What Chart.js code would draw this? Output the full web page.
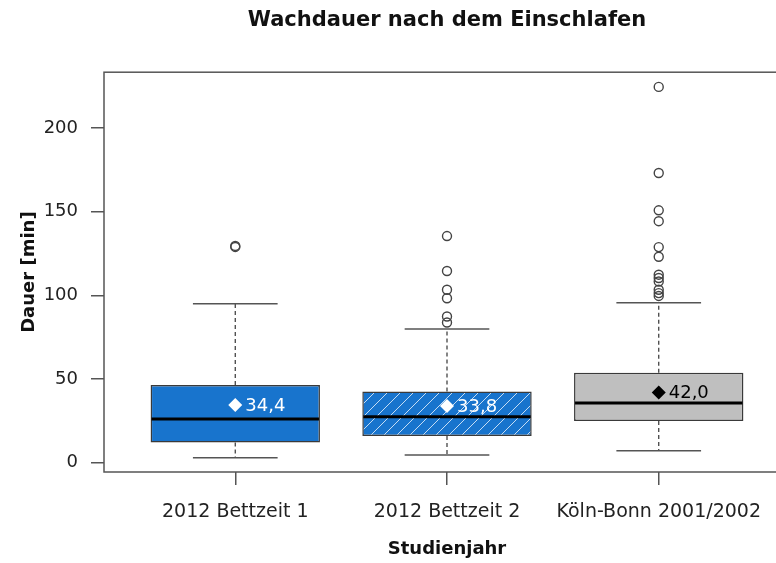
<!DOCTYPE html>
<html>
<head>
<meta charset="utf-8">
<title>Wachdauer nach dem Einschlafen</title>
<script src="https://cdn.jsdelivr.net/npm/chart.js@4.4.1/dist/chart.umd.min.js"></script>
<style>
  html, body { margin: 0; padding: 0; background: #fff; overflow: hidden; }
  #wrap { width: 800px; height: 563px; }
</style>
</head>
<body>
<div id="wrap"><canvas id="chart" width="800" height="563"></canvas></div>
<script>
// data
const categories = ['2012 Bettzeit 1', '2012 Bettzeit 2', 'Köln-Bonn 2001/2002'];
const xPos = [1, 2, 3];
const whiskerLow = [2.9, 4.5, 7.1];
const q1 = [12.1, 15.9, 24.9];
const medians = [26.1, 27.4, 35.6];
const q3 = [46.4, 42.6, 53.7];
const whiskerHigh = [95.0, 79.9, 95.6];
const means = [34.4, 33.8, 42.0];
const outliers1 = [129.0, 129.6];
const outliers2 = [135.5, 114.6, 103.4, 98.3, 87.4, 83.8];
const outliers3 = [224.7, 173.2, 150.9, 144.4, 128.9, 123.1, 112.4, 110.4, 108.3, 103.4, 101.4, 99.7];
const yTicks = [0, 50, 100, 150, 200];

const outliers = [outliers1, outliers2, outliers3];
const FONT = 'DejaVu Sans';
Chart.defaults.font.family = FONT;

// blue fill with white diagonal hatching for the second box
function hatch(color) {
    const c = document.createElement('canvas');
    c.width = 13; c.height = 13;
    const g = c.getContext('2d');
    g.fillStyle = color;
    g.fillRect(0, 0, 13, 13);
    g.strokeStyle = 'rgba(255,255,255,0.75)';
    g.lineWidth = 1;
    g.beginPath();
    g.moveTo(-1, 14); g.lineTo(14, -1);
    g.moveTo(-1, 1); g.lineTo(1, -1);
    g.moveTo(12, 14); g.lineTo(14, 12);
    g.stroke();
    return g.createPattern(c, 'repeat');
}

const blue = '#1874CD';
const boxFills = [blue, hatch(blue), '#BFBFBF'];
const meanColors = ['#ffffff', '#ffffff', '#000000'];

const boxParts = {
    id: 'boxParts',
    beforeDatasetsDraw(chart) {
        const ctx = chart.ctx;
        const xs = chart.scales.x, ys = chart.scales.y;
        const bars = chart.getDatasetMeta(0).data;
        ctx.save();
        xPos.forEach((xv, i) => {
            const x = xs.getPixelForValue(xv);
            // dashed whiskers
            ctx.strokeStyle = '#444';
            ctx.lineWidth = 1.3;
            ctx.setLineDash([4, 3]);
            ctx.beginPath();
            ctx.moveTo(x, ys.getPixelForValue(q3[i]));
            ctx.lineTo(x, ys.getPixelForValue(whiskerHigh[i]));
            ctx.moveTo(x, ys.getPixelForValue(q1[i]));
            ctx.lineTo(x, ys.getPixelForValue(whiskerLow[i]));
            ctx.stroke();
            // caps, half the box width
            const half = bars[i].width / 4;
            ctx.setLineDash([]);
            ctx.strokeStyle = '#555';
            ctx.lineWidth = 1.5;
            ctx.beginPath();
            [whiskerHigh[i], whiskerLow[i]].forEach(v => {
                const y = ys.getPixelForValue(v);
                ctx.moveTo(x - half, y);
                ctx.lineTo(x + half, y);
            });
            ctx.stroke();
        });
        ctx.restore();
    },
    afterDatasetsDraw(chart) {
        const ctx = chart.ctx;
        const xs = chart.scales.x, ys = chart.scales.y;
        const bars = chart.getDatasetMeta(0).data;
        const area = chart.chartArea;
        ctx.save();
        xPos.forEach((xv, i) => {
            const x = xs.getPixelForValue(xv);
            const half = bars[i].width / 2;
            const y = ys.getPixelForValue(medians[i]);
            ctx.strokeStyle = '#000';
            ctx.lineWidth = 3;
            ctx.beginPath();
            ctx.moveTo(x - half + 1, y);
            ctx.lineTo(x + half - 1, y);
            ctx.stroke();
            // mean label
            ctx.fillStyle = meanColors[i];
            ctx.font = '18px "' + FONT + '"';
            ctx.textAlign = 'left';
            ctx.textBaseline = 'middle';
            ctx.fillText(means[i].toFixed(1).replace('.', ','), x + 10, ys.getPixelForValue(means[i]) + 1);
        });
        // frame around the plot
        ctx.strokeStyle = '#555';
        ctx.lineWidth = 1.5;
        ctx.strokeRect(area.left, area.top, area.right - area.left, area.bottom - area.top);
        ctx.restore();
    }
};

new Chart(document.getElementById('chart').getContext('2d'), {
    type: 'bar',
    data: {
        datasets: [
            {
                type: 'bar',
                data: xPos.map((x, i) => ({ x: x, y: [q1[i], q3[i]] })),
                backgroundColor: boxFills,
                borderColor: '#3a3a3a',
                borderWidth: 1.5,
                borderSkipped: false,
                categoryPercentage: 0.8,
                barPercentage: 1,
                order: 3
            },
            {
                type: 'scatter',
                data: outliers.flatMap((arr, i) => arr.map(v => ({ x: xPos[i], y: v }))),
                pointStyle: 'circle',
                pointRadius: 4.5,
                borderColor: '#444',
                borderWidth: 1.4,
                backgroundColor: 'rgba(0,0,0,0)',
                order: 2
            },
            {
                type: 'scatter',
                data: xPos.map((x, i) => ({ x: x, y: means[i] })),
                pointStyle: 'rectRot',
                pointRadius: 7,
                backgroundColor: meanColors,
                borderColor: meanColors,
                borderWidth: 0,
                order: 1
            }
        ]
    },
    options: {
        responsive: false,
        animation: false,
        events: [],
        layout: { padding: { left: 0, right: 10, top: 0, bottom: 0 } },
        plugins: {
            legend: { display: false },
            tooltip: { enabled: false },
            title: {
                display: true,
                text: 'Wachdauer nach dem Einschlafen',
                fullSize: false,
                color: '#111',
                font: { size: 21, weight: 'bold' },
                padding: { top: 8, bottom: 39 }
            }
        },
        scales: {
            x: {
                type: 'linear',
                min: 0.38,
                max: 3.62,
                offset: false,
                afterBuildTicks: s => { s.ticks = xPos.map(v => ({ value: v })); },
                afterFit: s => { s.height = 91; },
                grid: { offset: false, drawOnChartArea: false, drawTicks: true, tickLength: 13, color: '#555', lineWidth: 1.5 },
                border: { display: false },
                ticks: {
                    callback: v => categories[v - 1] || '',
                    autoSkip: false,
                    maxRotation: 0,
                    padding: 16,
                    color: '#222',
                    font: { size: 19 }
                },
                title: {
                    display: true,
                    text: 'Studienjahr',
                    color: '#111',
                    font: { size: 18, weight: 'bold' },
                    padding: { top: 0, bottom: 3 }
                }
            },
            y: {
                min: -5.6,
                max: 233.5,
                afterBuildTicks: s => { s.ticks = yTicks.map(v => ({ value: v })); },
                afterFit: s => { s.width = 104; },
                grid: { drawOnChartArea: false, drawTicks: true, tickLength: 13, color: '#555', lineWidth: 1.5 },
                border: { display: false },
                ticks: { padding: 13, color: '#222', font: { size: 18 } },
                title: {
                    display: true,
                    text: 'Dauer [min]',
                    color: '#111',
                    font: { size: 18, weight: 'bold' },
                    padding: { top: 19, bottom: 0 }
                }
            }
        }
    },
    plugins: [boxParts]
});
</script>
</body>
</html>
